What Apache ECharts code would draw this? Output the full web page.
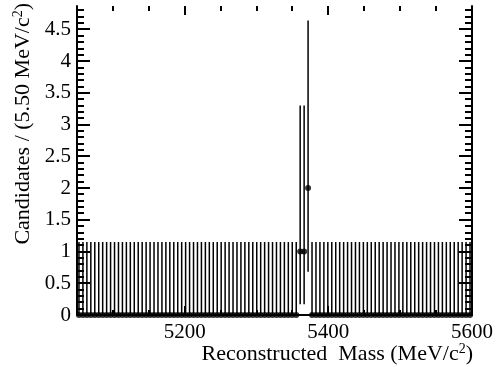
<!DOCTYPE html>
<html>
<head>
<meta charset="utf-8">
<script src="https://cdn.jsdelivr.net/npm/echarts@6/dist/echarts.min.js"></script>
<style>
  html, body { margin: 0; padding: 0; background: #fff; }
  #chart { width: 496px; height: 367px; }
</style>
</head>
<body>
<div id="chart"></div>
<script>
// Histogram binning: 100 bins of 5.5 MeV/c^2 from 5050 to 5600
const massMin = 5050;
const massMax = 5600;
const binWidth = 5.5;

// Candidates per bin
const counts = [
  0, 0, 0, 0, 0, 0, 0, 0, 0, 0,
  0, 0, 0, 0, 0, 0, 0, 0, 0, 0,
  0, 0, 0, 0, 0, 0, 0, 0, 0, 0,
  0, 0, 0, 0, 0, 0, 0, 0, 0, 0,
  0, 0, 0, 0, 0, 0, 0, 0, 0, 0,
  0, 0, 0, 0, 0, 0, 1, 1, 2, 0,
  0, 0, 0, 0, 0, 0, 0, 0, 0, 0,
  0, 0, 0, 0, 0, 0, 0, 0, 0, 0,
  0, 0, 0, 0, 0, 0, 0, 0, 0, 0,
  0, 0, 0, 0, 0, 0, 0, 0, 0, 0
];

// Asymmetric Poisson error band edges [low, high] for each observed count
const errorLow  = { 0: 0,    1: 0.17, 2: 0.68 };
const errorHigh = { 0: 1.15, 1: 3.30, 2: 4.64 };

// Axis ticks / labels
const xLabels = [5200, 5400, 5600];
const yLabels = [0, 0.5, 1, 1.5, 2, 2.5, 3, 3.5, 4, 4.5];
const yMax = 4.87;

const FONT = 'Liberation Serif';

const centers = counts.map((_, i) => massMin + binWidth * (i + 0.5));
const pointData = counts.map((c, i) => [centers[i], c]);
const errData = counts.map((c, i) => [centers[i], errorLow[c], errorHigh[c]]);

// tick positions (major + minor) on both axes
const xMajor = [5200, 5400];
const xMinor = [];
for (let v = 5100; v < massMax; v += 50) if (v % 200 !== 0) xMinor.push(v);
const yMajor = yLabels.slice(1);
const yMinor = [];
for (let k = 1; k * 0.1 < yMax; k++) if (k % 5 !== 0) yMinor.push(+(k * 0.1).toFixed(1));

const chart = echarts.init(document.getElementById('chart'), null, { renderer: 'canvas' });

const axisLineStyle = { show: true, lineStyle: { color: '#000', width: 2 } };

chart.setOption({
  animation: false,
  backgroundColor: '#fff',
  grid: { left: 77, right: 23, top: 6, bottom: 52, containLabel: false },
  xAxis: [{
    type: 'value', min: massMin, max: massMax, interval: 50, position: 'bottom',
    axisLine: axisLineStyle, axisTick: { show: false }, splitLine: { show: false },
    axisLabel: {
      color: '#000', fontFamily: FONT, fontSize: 21, margin: 7,
      showMinLabel: false, showMaxLabel: true,
      formatter: v => (xLabels.indexOf(v) >= 0 ? String(v) : '')
    }
  }, {
    type: 'value', min: massMin, max: massMax, interval: 50, position: 'top',
    axisLine: axisLineStyle, axisTick: { show: false }, splitLine: { show: false },
    axisLabel: { show: false }
  }],
  yAxis: [{
    type: 'value', min: 0, max: yMax, interval: 0.5, position: 'left',
    axisLine: axisLineStyle, axisTick: { show: false }, splitLine: { show: false },
    axisLabel: {
      color: '#000', fontFamily: FONT, fontSize: 21, margin: 6, showMaxLabel: false,
      formatter: v => (yLabels.indexOf(v) >= 0 ? String(v) : '')
    }
  }, {
    type: 'value', min: 0, max: yMax, interval: 0.5, position: 'right',
    axisLine: axisLineStyle, axisTick: { show: false }, splitLine: { show: false },
    axisLabel: { show: false }
  }],
  graphic: [{
    type: 'text', x: 473, y: 354,
    style: {
      text: 'Reconstructed  Mass (MeV/c{sup|2})',
      rich: { sup: { fontSize: 14, fontFamily: FONT, fill: '#000', padding: [0, 0, 10, 0] } },
      font: '22px "Liberation Serif"', fill: '#000', align: 'right', verticalAlign: 'middle'
    }
  }, {
    type: 'text', x: 23, y: 3, rotation: Math.PI / 2,
    style: {
      text: 'Candidates / (5.50 MeV/c{sup|2})',
      rich: { sup: { fontSize: 14, fontFamily: FONT, fill: '#000', padding: [0, 0, 10, 0] } },
      font: '22px "Liberation Serif"', fill: '#000', align: 'right', verticalAlign: 'middle'
    }
  }],
  series: [{
    // inward tick marks on all four sides of the frame
    type: 'custom', name: 'ticks', silent: true, clip: false,
    data: [[massMin, 0]],
    renderItem: function (params, api) {
      const children = [];
      const add = (x1, y1, x2, y2) => children.push({
        type: 'line', shape: { x1, y1, x2, y2 },
        style: { stroke: '#000', lineWidth: 2 }
      });
      const bottom = api.coord([massMin, 0])[1];
      const top = api.coord([massMin, yMax])[1];
      const left = api.coord([massMin, 0])[0];
      const right = api.coord([massMax, 0])[0];
      xMajor.forEach(v => { const x = Math.round(api.coord([v, 0])[0]); add(x, bottom, x, bottom - 9); add(x, top, x, top + 9); });
      xMinor.forEach(v => { const x = Math.round(api.coord([v, 0])[0]); add(x, bottom, x, bottom - 5); add(x, top, x, top + 5); });
      yMajor.forEach(v => { const y = Math.round(api.coord([massMin, v])[1]); add(left, y, left + 13, y); add(right, y, right - 13, y); });
      yMinor.forEach(v => { const y = Math.round(api.coord([massMin, v])[1]); add(left, y, left + 7, y); add(right, y, right - 7, y); });
      return { type: 'group', children };
    },
    z: 5
  }, {
    // vertical error bars
    type: 'custom', name: 'errors', silent: true,
    data: errData,
    renderItem: function (params, api) {
      const p1 = api.coord([api.value(0), api.value(1)]);
      const p2 = api.coord([api.value(0), api.value(2)]);
      return {
        type: 'line', shape: { x1: p1[0], y1: p1[1], x2: p1[0], y2: p2[1] },
        style: { stroke: '#000', lineWidth: 1.5 }
      };
    },
    z: 2
  }, {
    type: 'scatter', name: 'data', data: pointData,
    symbol: 'circle', symbolSize: 6,
    itemStyle: { color: '#000' }, silent: true, clip: false, z: 3
  }]
});
</script>
</body>
</html>
